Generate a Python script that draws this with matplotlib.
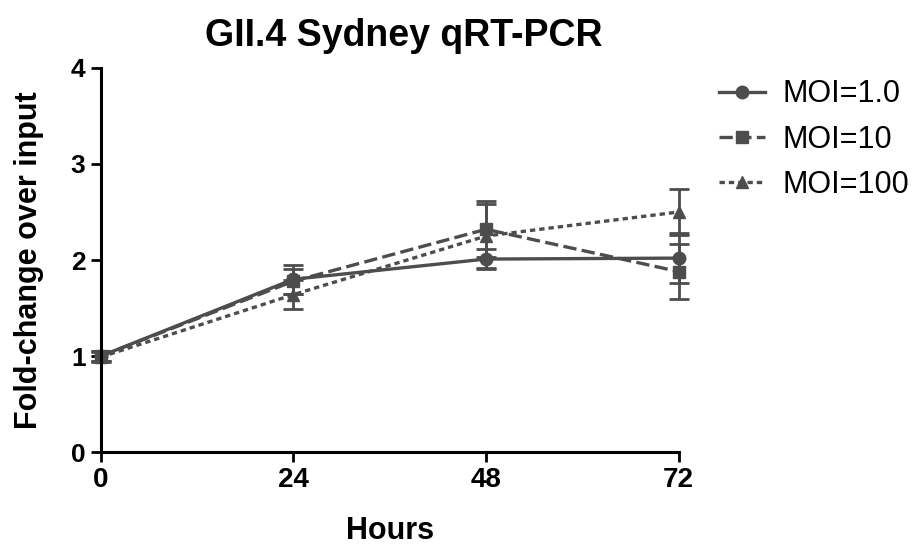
"""
plot.py

Curva de replicación GII.4 Sydney (qRT-PCR).
"""

import matplotlib.pyplot as plt

plt.rcParams["font.family"] = ["Liberation Sans", "DejaVu Sans"]

horas = [0, 24, 48, 72]

moi_1 = [1.00, 1.80, 2.01, 2.02]
moi_1_err = [0.05, 0.15, 0.10, 0.26]

moi_10 = [1.00, 1.78, 2.32, 1.88]
moi_10_err = [0.05, 0.13, 0.29, 0.29]

moi_100 = [0.99, 1.64, 2.25, 2.50]
moi_100_err = [0.05, 0.15, 0.33, 0.24]

etiquetas = ["MOI=1.0", "MOI=10", "MOI=100"]

gris = "#4d4d4d"

fig = plt.figure(figsize=(9.17, 5.48), dpi=100)
ax = fig.add_axes([0.110, 0.175, 0.630, 0.701])

series = [
    (moi_1, moi_1_err, "-", "o", 9),
    (moi_10, moi_10_err, (0, (4, 1.6)), "s", 8),
    (moi_100, moi_100_err, (0, (1.6, 1.2)), "^", 9),
]

lineas = []
for valores, errores, estilo, marcador, tam in series:
    cont = ax.errorbar(
        horas,
        valores,
        yerr=errores,
        color=gris,
        linestyle=estilo,
        linewidth=2.4,
        marker=marcador,
        markersize=tam,
        elinewidth=2,
        capsize=7,
        capthick=2
    )
    for artista in cont.get_children():
        artista.set_clip_on(False)
    lineas.append(cont[0])

ax.set_xlim(0, 72)
ax.set_ylim(0, 4)
ax.set_xticks(horas)
ax.set_yticks([0, 1, 2, 3, 4])

for lado in ["top", "right"]:
    ax.spines[lado].set_visible(False)
for lado in ["left", "bottom"]:
    ax.spines[lado].set_linewidth(2.2)
    ax.spines[lado].set_color("black")

ax.tick_params(direction="out", length=7, width=2, pad=4)
ax.tick_params(axis="x", labelsize=20)
ax.tick_params(axis="y", labelsize=19)
for etiqueta in ax.get_xticklabels() + ax.get_yticklabels():
    etiqueta.set_fontweight("bold")

ax.set_title("GII.4 Sydney qRT-PCR", fontsize=27, fontweight="bold",
             pad=16, x=0.525)
ax.set_xlabel("Hours", fontsize=22, fontweight="bold", labelpad=16)
ax.set_ylabel("Fold-change over input", fontsize=22, fontweight="bold",
              labelpad=19)

ax.legend(
    lineas,
    etiquetas,
    loc="upper left",
    bbox_to_anchor=(1.023, 1.042),
    frameon=False,
    fontsize=22,
    handlelength=1.5,
    labelspacing=0.5,
    handletextpad=0.55
)

fig.savefig("out.png", dpi=100)
plt.close(fig)
